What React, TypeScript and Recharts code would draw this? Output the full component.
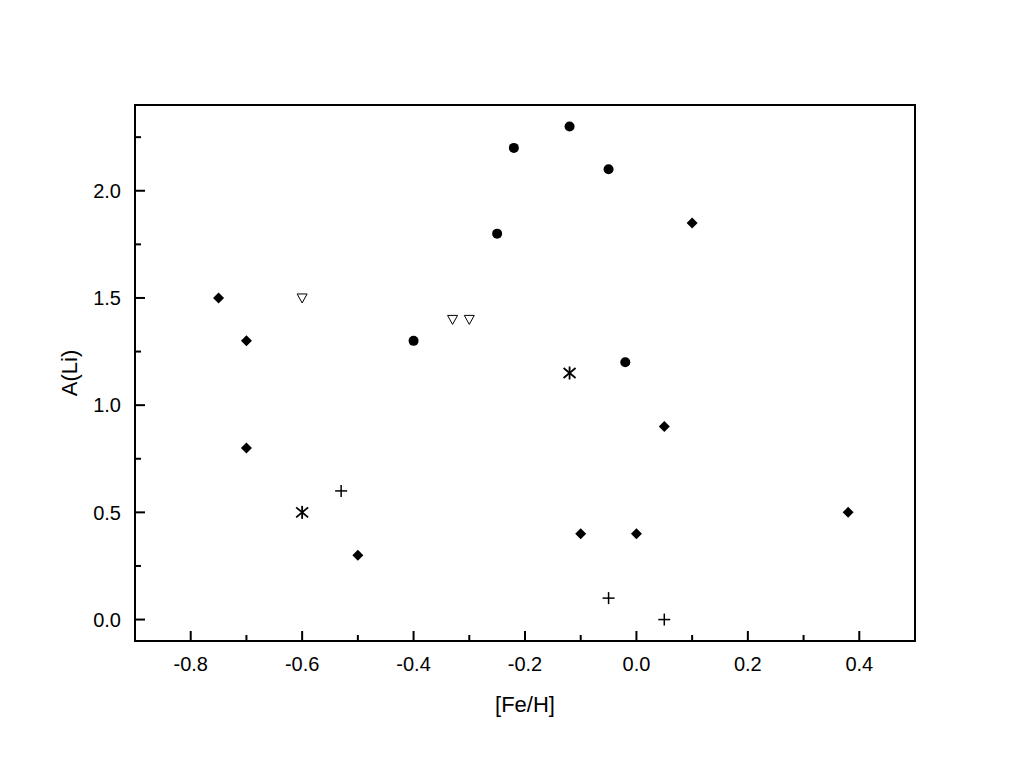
import React from "react";
import { ScatterChart, Scatter, XAxis, YAxis, ReferenceArea, Label } from "recharts";

const FONT = '"Liberation Sans", Arial, Helvetica, sans-serif';

// [Fe/H] and A(Li) for each symbol group
const diamondFeH = [-0.75, -0.7, -0.7, -0.5, -0.1, 0.0, 0.05, 0.1, 0.38];
const diamondALi = [1.5, 1.3, 0.8, 0.3, 0.4, 0.4, 0.9, 1.85, 0.5];
const circleFeH = [-0.4, -0.25, -0.22, -0.12, -0.05, -0.02];
const circleALi = [1.3, 1.8, 2.2, 2.3, 2.1, 1.2];
const triangleFeH = [-0.6, -0.33, -0.3];
const triangleALi = [1.5, 1.4, 1.4];
const starFeH = [-0.6, -0.12];
const starALi = [0.5, 1.15];
const plusFeH = [-0.53, -0.05, 0.05];
const plusALi = [0.6, 0.1, 0.0];

const xTicks = [-0.8, -0.7, -0.6, -0.5, -0.4, -0.3, -0.2, -0.1, 0.0, 0.1, 0.2, 0.3, 0.4];
const xTickLabels = ["-0.8", "-0.6", "-0.4", "-0.2", "0.0", "0.2", "0.4"];
const yTicks = [0, 0.25, 0.5, 0.75, 1.0, 1.25, 1.5, 1.75, 2.0, 2.25];
const yTickLabels = ["0.0", "0.5", "1.0", "1.5", "2.0"];

const toPoints = (xs: number[], ys: number[]) => xs.map((x, i) => ({ x, y: ys[i] }));

const XTick = (props: any) => {
  const { x, y, payload } = props;
  const label = Number(payload.value).toFixed(1);
  const major = xTickLabels.includes(label);
  return (
    <g>
      <line x1={x} x2={x} y1={y} y2={y - (major ? 10 : 6)} stroke="#000" strokeWidth={2} />
      {major && (
        <text x={x} y={y + 30} textAnchor="middle" fontSize={20} fontFamily={FONT} fill="#000">
          {label}
        </text>
      )}
    </g>
  );
};

const YTick = (props: any) => {
  const { x, y, payload } = props;
  const v = Number(payload.value);
  const label = v.toFixed(1);
  const major = v * 2 === Math.round(v * 2) && yTickLabels.includes(label);
  return (
    <g>
      <line x1={x} x2={x + (major ? 10 : 6)} y1={y} y2={y} stroke="#000" strokeWidth={2} />
      {major && (
        <text x={x - 14} y={y} dy="0.36em" textAnchor="end" fontSize={20} fontFamily={FONT} fill="#000">
          {label}
        </text>
      )}
    </g>
  );
};

const Diamond = ({ cx, cy }: any) => (
  <polygon points={`${cx},${cy - 5.5} ${cx + 5.5},${cy} ${cx},${cy + 5.5} ${cx - 5.5},${cy}`} fill="#000" />
);
const Dot = ({ cx, cy }: any) => <circle cx={cx} cy={cy} r={5} fill="#000" />;
const OpenTriangle = ({ cx, cy }: any) => (
  <polygon
    points={`${cx - 5},${cy - 4} ${cx + 5},${cy - 4} ${cx},${cy + 5}`}
    fill="#fff"
    stroke="#000"
    strokeWidth={1}
  />
);
const Star = ({ cx, cy }: any) => (
  <g stroke="#000" strokeWidth={1.8}>
    <line x1={cx} x2={cx} y1={cy - 6.5} y2={cy + 6.5} />
    <line x1={cx - 6} x2={cx + 6} y1={cy - 5} y2={cy + 5} />
    <line x1={cx - 6} x2={cx + 6} y1={cy + 5} y2={cy - 5} />
  </g>
);
const Plus = ({ cx, cy }: any) => (
  <g stroke="#000" strokeWidth={1.5}>
    <line x1={cx - 6} x2={cx + 6} y1={cy} y2={cy} />
    <line x1={cx} x2={cx} y1={cy - 6} y2={cy + 6} />
  </g>
);

export default function App() {
  return (
    <div style={{ position: "absolute", left: 0, top: 0, background: "#fff" }}>
      <ScatterChart width={1010} height={771} margin={{ top: 105, right: 95, bottom: 70, left: 75 }}>
        <XAxis
          type="number"
          dataKey="x"
          domain={[-0.9, 0.5]}
          ticks={xTicks}
          interval={0}
          allowDataOverflow
          height={60}
          axisLine={false}
          tickLine={false}
          tickSize={0}
          tickMargin={0}
          tick={<XTick />}
        >
          <Label
            content={(p: any) => (
              <text
                x={p.viewBox.x + p.viewBox.width / 2}
                y={p.viewBox.y + 71}
                textAnchor="middle"
                fontSize={22}
                fontFamily={FONT}
                fill="#000"
              >
                [Fe/H]
              </text>
            )}
          />
        </XAxis>
        <YAxis
          type="number"
          dataKey="y"
          domain={[-0.1, 2.4]}
          ticks={yTicks}
          interval={0}
          allowDataOverflow
          width={60}
          axisLine={false}
          tickLine={false}
          tickSize={0}
          tickMargin={0}
          tick={<YTick />}
        >
          <Label
            content={(p: any) => {
              const cx = 77;
              const cy = p.viewBox.y + p.viewBox.height / 2;
              return (
                <text
                  x={cx}
                  y={cy}
                  transform={`rotate(-90, ${cx}, ${cy})`}
                  textAnchor="middle"
                  fontSize={22}
                  fontFamily={FONT}
                  fill="#000"
                >
                  A(Li)
                </text>
              );
            }}
          />
        </YAxis>
        <ReferenceArea x1={-0.9} x2={0.5} y1={-0.1} y2={2.4} fill="none" stroke="#000" strokeWidth={2} />
        <Scatter data={toPoints(diamondFeH, diamondALi)} shape={(p: any) => <Diamond cx={p.cx} cy={p.cy} />} isAnimationActive={false} />
        <Scatter data={toPoints(circleFeH, circleALi)} shape={(p: any) => <Dot cx={p.cx} cy={p.cy} />} isAnimationActive={false} />
        <Scatter data={toPoints(triangleFeH, triangleALi)} shape={(p: any) => <OpenTriangle cx={p.cx} cy={p.cy} />} isAnimationActive={false} />
        <Scatter data={toPoints(starFeH, starALi)} shape={(p: any) => <Star cx={p.cx} cy={p.cy} />} isAnimationActive={false} />
        <Scatter data={toPoints(plusFeH, plusALi)} shape={(p: any) => <Plus cx={p.cx} cy={p.cy} />} isAnimationActive={false} />
      </ScatterChart>
    </div>
  );
}
